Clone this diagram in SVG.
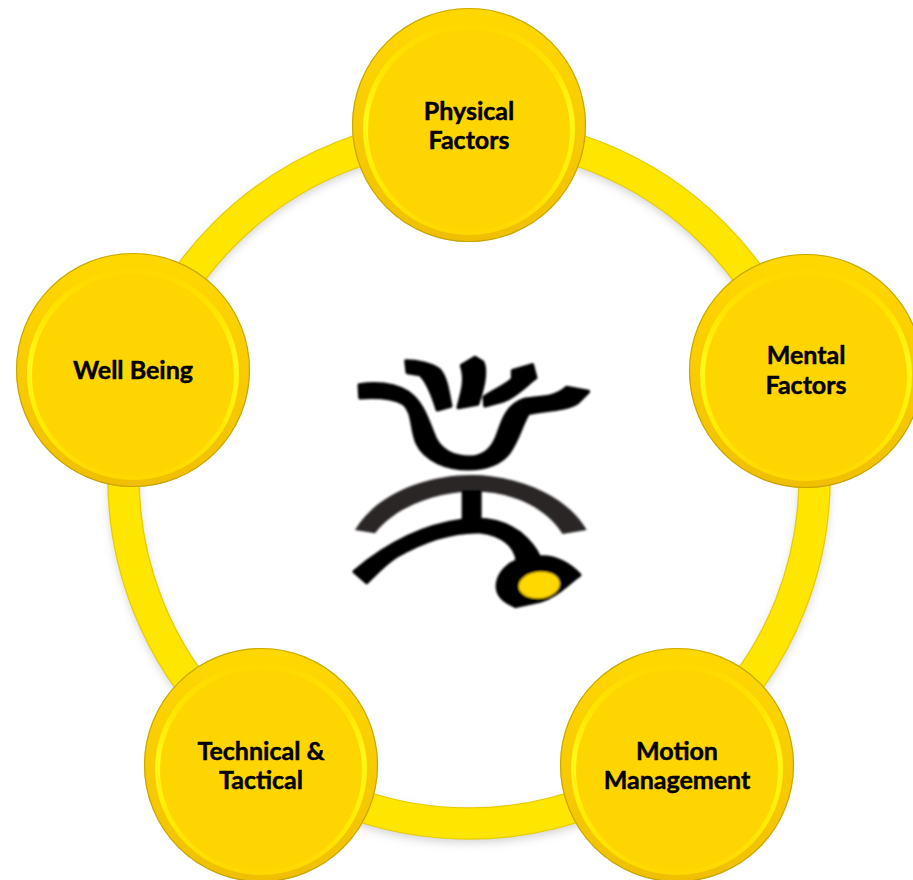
<svg xmlns="http://www.w3.org/2000/svg" width="913" height="880" viewBox="0 0 913 880">
<style>
.rim{fill:url(#rim)}
.edge{fill:none;stroke:#B89A00;stroke-opacity:.75;stroke-width:1.2}
.glow{fill:none;stroke:url(#hi);stroke-width:6}
.disc{fill:#FFD500}
.t{font-family:Lato,"Liberation Sans",sans-serif;font-weight:700;font-size:25px;fill:#000;stroke:#000;stroke-width:.45;text-anchor:middle}
.k{fill:#000;stroke:#000;stroke-width:11;stroke-linejoin:round}
</style>
<defs>
<linearGradient id="rim" x1="0" y1="0" x2="0" y2="1"><stop offset="0" stop-color="#FFD800"/><stop offset=".5" stop-color="#F8CC00"/><stop offset="1" stop-color="#F0C000"/></linearGradient>
<linearGradient id="hi" x1="0" y1="0" x2="0" y2="1"><stop offset="0" stop-color="#FFD800"/><stop offset=".22" stop-color="#FFE600"/><stop offset=".45" stop-color="#FFF81A"/><stop offset=".75" stop-color="#FFEC00"/><stop offset="1" stop-color="#FFD800"/></linearGradient>
<filter id="soft" x="-10%" y="-10%" width="120%" height="120%"><feGaussianBlur stdDeviation="3.5"/></filter>
<filter id="sh" x="-20%" y="-20%" width="140%" height="140%"><feGaussianBlur stdDeviation="4"/></filter>
<g id="node"><circle r="117" class="rim"/><circle r="116.5" class="edge"/><circle cy="4" r="103" class="glow"/><circle cy="5" r="101" class="disc"/></g>
</defs>
<rect width="913" height="880" fill="#fff"/>
<g id="connectors">
<circle cx="469" cy="482" r="345.5" fill="none" stroke="#777" stroke-opacity=".3" stroke-width="31" filter="url(#sh)"/>
<circle cx="469" cy="478" r="345.5" fill="none" stroke="#E6CC00" stroke-width="32.5"/>
<circle cx="469" cy="478" r="345.5" fill="none" stroke="#FFE600" stroke-width="30"/>
</g>
<g id="n-physical"><use href="#node" x="469" y="125"/><text class="t" x="469" y="120">Physical</text><text class="t" x="469" y="149">Factors</text></g>
<g id="n-mental"><use href="#node" x="806" y="371"/><text class="t" x="806" y="364">Mental</text><text class="t" x="806" y="394">Factors</text></g>
<g id="n-motion"><use href="#node" x="677" y="765"/><text class="t" x="677" y="760">Motion</text><text class="t" x="677" y="789">Management</text></g>
<g id="n-technical"><use href="#node" x="261" y="765"/><text class="t" x="261" y="760">Technical &amp;</text><text class="t" x="261" y="789">Tactical</text></g>
<g id="n-wellbeing"><use href="#node" x="133" y="370"/><text class="t" x="133" y="379">Well Being</text></g>
<g id="logo" transform="translate(340 340) scale(.3333)" filter="url(#soft)">
<path class="k" d="M58 135C110 128 165 133 205 158C250 188 265 250 285 295C305 335 345 352 390 352C435 352 460 325 475 280C490 235 505 195 550 180C590 170 640 180 680 143L745 155L712 188C670 213 610 208 565 220C545 250 535 300 505 340C475 376 430 386 385 386C320 386 255 360 232 310C212 265 222 215 190 190C155 170 105 170 60 173Z"/>
<path class="k" d="M198 63C230 63 275 72 298 90C320 115 325 165 332 198L292 209C280 170 265 125 240 103L202 97Z"/>
<path class="k" d="M365 77L405 53L428 67C443 100 423 160 413 192L355 202C363 165 381 125 365 77Z"/>
<path class="k" d="M518 92L577 75L587 113C555 138 520 173 490 182L435 197L433 172C460 152 500 137 518 117Z"/>
<path d="M45 570C110 460 260 405 395 405C530 405 680 465 740 570L668 582C610 490 490 452 395 455C290 455 165 500 105 580Z" fill="#2A2526"/>
<path d="M365 450H425V550H365Z" fill="#000"/>
<path class="k" d="M43 695C120 630 230 560 365 542C430 533 490 543 538 578C568 603 588 628 598 652C650 648 693 677 719 705C680 733 650 768 600 783L527 799C492 783 468 765 473 730C478 697 507 672 532 662C527 620 490 583 420 575C330 573 240 608 170 648C135 670 105 703 80 727Z"/>
<ellipse cx="598" cy="735" rx="62" ry="40" fill="#FFD800" transform="rotate(-6 598 735)"/>
</g>
</svg>
